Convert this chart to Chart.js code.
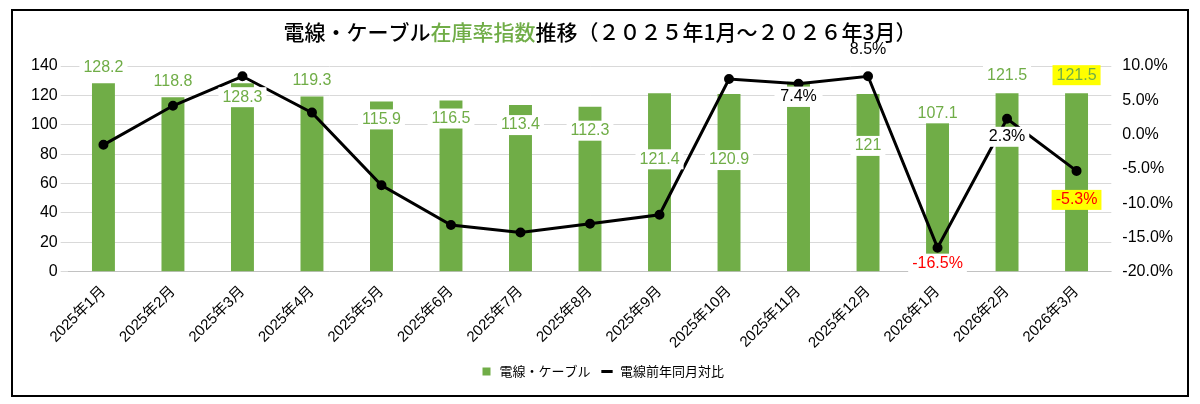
<!DOCTYPE html>
<html><head><meta charset="utf-8">
<script src="https://cdn.jsdelivr.net/npm/chart.js@4"></script>
<style>body{margin:0;background:#fff}#wrap{width:1200px;height:404px}</style>
</head><body><div id="wrap"><canvas id="c"></canvas></div>
<script>
const months = ["2025年1月","2025年2月","2025年3月","2025年4月","2025年5月","2025年6月","2025年7月","2025年8月","2025年9月","2025年10月","2025年11月","2025年12月","2026年1月","2026年2月","2026年3月"];
const cableIndex = [128.2,118.8,128.3,119.3,115.9,116.5,113.4,112.3,121.4,120.9,129.3,121,107.1,121.5,121.5];
const yoyChange = [-1.5,4.2,8.5,3.2,-7.4,-13.2,-14.3,-13.0,-11.7,8.1,7.4,8.5,-16.5,2.3,-5.3];
const leftTicks = [0,20,40,60,80,100,120,140];

const FONT = "'Liberation Sans', Arial, 'Noto Sans CJK JP', sans-serif";
const GREEN = "#70ad47";

// hand-placed label offsets (px from bar top / point), like the moved labels in the original
const barDy = [-16,-16,14,-16,18,18,20,24,66,66,15,52,-1,-18,-18];
const lineDy = {10:13, 11:-27, 12:16, 13:18, 14:29};

const labelPlugin = {
  id: "labels",
  afterDatasetsDraw(chart) {
    const ctx = chart.ctx;
    ctx.save();
    ctx.font = "16px " + FONT;
    ctx.textAlign = "center";
    ctx.textBaseline = "middle";
    const bars = chart.getDatasetMeta(0).data;
    bars.forEach((b, i) => {
      const t = String(cableIndex[i]);
      const y = b.y + barDy[i];
      const w = ctx.measureText(t).width + 8;
      ctx.fillStyle = i === 14 ? "#ffff00" : "#fff";
      ctx.fillRect(b.x - w / 2, y - 10, w, 20);
      ctx.fillStyle = GREEN;
      ctx.fillText(t, b.x, y);
    });
    const pts = chart.getDatasetMeta(1).data;
    Object.keys(lineDy).forEach(k => {
      const i = +k, p = pts[i];
      const t = yoyChange[i].toFixed(1) + "%";
      const y = p.y + lineDy[i];
      const w = ctx.measureText(t).width + 8;
      ctx.fillStyle = i === 14 ? "#ffff00" : "#fff";
      ctx.fillRect(p.x - w / 2, y - 10, w, 20);
      ctx.fillStyle = yoyChange[i] < -5 ? "#ff0000" : "#000";
      ctx.fillText(t, p.x, y);
    });
    ctx.restore();
  },
  afterDraw(chart) {
    const ctx = chart.ctx;
    ctx.save();
    ctx.strokeStyle = "#000";
    ctx.lineWidth = 2;
    ctx.strokeRect(12, 10, 1176, 386);
    // title with green middle part
    const parts = [["電線・ケーブル","#000"],["在庫率指数",GREEN],["推移（２０２５年1月～２０２６年3月）","#000"]];
    ctx.font = "500 21px 'Noto Sans CJK JP', sans-serif";
    ctx.textBaseline = "middle";
    ctx.textAlign = "left";
    const total = parts.reduce((s, p) => s + ctx.measureText(p[0]).width, 0);
    let x = 600 - total / 2;
    parts.forEach(p => { ctx.fillStyle = p[1]; ctx.fillText(p[0], x, 32); x += ctx.measureText(p[0]).width; });
    ctx.restore();
  }
};

new Chart(document.getElementById("c"), {
  data: {
    labels: months,
    datasets: [
      { type: "bar", label: "電線・ケーブル", data: cableIndex, backgroundColor: GREEN, yAxisID: "y", barPercentage: 0.33, categoryPercentage: 1, order: 2 },
      { type: "line", label: "電線前年同月対比", data: yoyChange, borderColor: "#000", backgroundColor: "#000", borderWidth: 3, pointRadius: 3.5, pointBackgroundColor: "#000", yAxisID: "y1", tension: 0, order: 1 }
    ]
  },
  options: {
    responsive: true, maintainAspectRatio: false, animation: false,
    layout: { padding: { top: 66, left: 28, right: 24, bottom: 16 } },
    plugins: {
      tooltip: { enabled: false },
      legend: {
        position: "bottom",
        labels: {
          font: { size: 13, family: "'Noto Sans CJK JP', sans-serif" }, color: "#333",
          usePointStyle: true,
          generateLabels: (chart) => [
            { text: "電線・ケーブル", fillStyle: GREEN, strokeStyle: GREEN, lineWidth: 0, pointStyle: "rect", datasetIndex: 0 },
            { text: "電線前年同月対比", fillStyle: "#000", strokeStyle: "#000", lineWidth: 3, pointStyle: "line", datasetIndex: 1 }
          ],
          boxWidth: 30, boxHeight: 8
        }
      }
    },
    scales: {
      x: {
        grid: { display: false },
        ticks: { font: { size: 15, family: FONT }, color: "#000", maxRotation: 45, minRotation: 45 }
      },
      y: {
        min: 0, max: 140,
        afterBuildTicks: (s) => { s.ticks = leftTicks.map(v => ({ value: v })); },
        grid: { color: "#d9d9d9" }, border: { display: false },
        ticks: { font: { size: 16, family: FONT }, color: "#000" }
      },
      y1: {
        position: "right", min: -20, max: 10,
        ticks: { stepSize: 5, font: { size: 16, family: FONT }, color: "#000", callback: v => v.toFixed(1) + "%" },
        grid: { display: false }, border: { display: false }
      }
    }
  },
  plugins: [labelPlugin]
});
</script></body></html>
